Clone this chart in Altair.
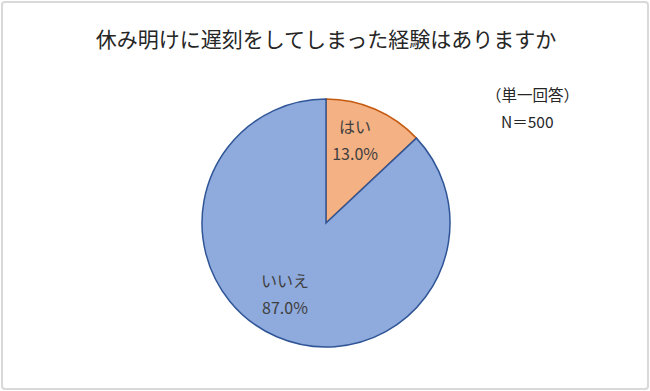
import altair as alt
import pandas as pd

categories = ["はい", "いいえ"]
values = [13.0, 87.0]
labels = ["13.0%", "87.0%"]
fill_colors = ["#F4B183", "#8FAADC"]
stroke_colors = ["#C55A11", "#2F5597"]
title_text = "休み明けに遅刻をしてしまった経験はありますか"
note_lines = ["（単一回答）", "N＝500"]

df = pd.DataFrame({"category": categories, "value": values, "label": labels, "order": [0, 1]})
df["text"] = df["category"] + "\n" + df["label"]

FONT = "Noto Sans CJK JP"
W, H = 650, 391
cx, cy, R = 326, 223, 124

pie = alt.Chart(df).mark_arc(outerRadius=R, strokeWidth=1.5).encode(
    theta=alt.Theta("value:Q", stack=True),
    order=alt.Order("order:Q"),
    color=alt.Color("category:N", scale=alt.Scale(domain=categories, range=fill_colors), legend=None),
    stroke=alt.Stroke("category:N", scale=alt.Scale(domain=categories, range=stroke_colors), legend=None),
    x=alt.value(cx),
    y=alt.value(cy),
)

lab_base = alt.Chart(df).transform_window(
    cum="sum(value)", sort=[alt.SortField("order")], frame=[None, 0]
).transform_calculate(mid="datum.cum - datum.value / 2")

def label_layer(cat, r, dx):
    return lab_base.transform_filter(alt.datum.category == cat).mark_text(
        font=FONT, fontSize=16, color="#404040", lineBreak="\n", lineHeight=27,
        align="center", baseline="middle", dx=dx,
    ).encode(
        theta=alt.Theta("mid:Q", stack=None),
        text="text:N",
        radius=alt.value(r),
        x=alt.value(cx),
        y=alt.value(cy),
    )

lab_yes = label_layer("はい", 103.5, -12)
lab_no = label_layer("いいえ", 64.3, -15.5)

title_df = pd.DataFrame({"t": [title_text]})
title = alt.Chart(title_df).mark_text(
    font=FONT, fontSize=21, color="#262626", align="center", baseline="middle"
).encode(text="t:N", x=alt.value(326), y=alt.value(41))

note_df = pd.DataFrame({"t": note_lines, "i": [0, 1]})
note1 = alt.Chart(note_df).transform_filter(alt.datum.i == 0).mark_text(
    font=FONT, fontSize=15.5, color="#262626", align="left", baseline="middle"
).encode(text="t:N", x=alt.value(486), y=alt.value(96))
note2 = alt.Chart(note_df).transform_filter(alt.datum.i == 1).mark_text(
    font=FONT, fontSize=15.5, color="#262626", align="left", baseline="middle"
).encode(text="t:N", x=alt.value(501), y=alt.value(123))

frame = alt.Chart(pd.DataFrame({"a": [0]})).mark_rect(
    fill="white", stroke="#D9D9D9", strokeWidth=2, cornerRadius=3
).encode(x=alt.value(2), x2=alt.value(648), y=alt.value(2), y2=alt.value(389))

chart = alt.layer(frame, pie, lab_yes, lab_no, title, note1, note2).properties(
    width=W, height=H, autosize=alt.AutoSizeParams(type="none"), padding=0,
    background="white",
).configure_view(stroke=None)

chart.save("out.html", embed_options={"renderer": "svg", "actions": False})
